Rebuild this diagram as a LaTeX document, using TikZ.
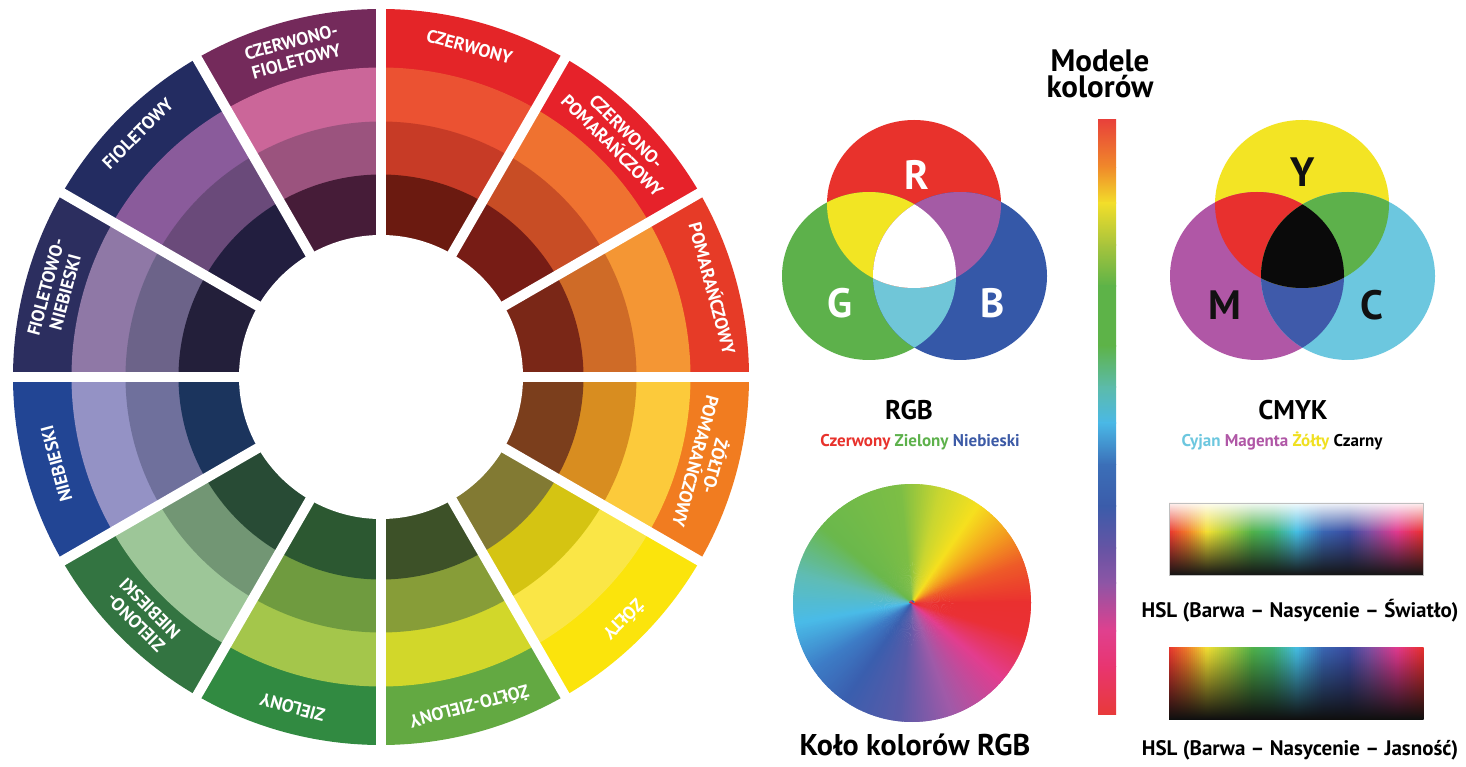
\documentclass[tikz,border=0pt]{standalone}
\usepackage{fontspec}
\setmainfont{PT Sans}
\usetikzlibrary{calc}

% basic palette
\definecolor{txtR}{HTML}{E8322C}
\definecolor{txtG}{HTML}{5DB14B}
\definecolor{txtB}{HTML}{3C5AA6}
\definecolor{txtC}{HTML}{6CC7DF}
\definecolor{txtM}{HTML}{B057A6}
\definecolor{txtY}{HTML}{F0E020}
\definecolor{inkdark}{HTML}{111111}

% venn colours
\definecolor{vR}{HTML}{E8322C}
\definecolor{vG}{HTML}{5DB14B}
\definecolor{vB}{HTML}{3558A8}
\definecolor{vRG}{HTML}{F2E523}
\definecolor{vRB}{HTML}{A45BA5}
\definecolor{vGB}{HTML}{70C6D8}
\definecolor{vY}{HTML}{F3E424}
\definecolor{vM}{HTML}{B057A6}
\definecolor{vC}{HTML}{6CC7DF}
\definecolor{vYM}{HTML}{E8302E}
\definecolor{vYC}{HTML}{5DB14B}
\definecolor{vMC}{HTML}{3F5AAA}
\definecolor{vK}{HTML}{0A0A0A}

\tikzset{
  wlabel/.style={text=white, font=\bfseries\fontsize{18}{20}\selectfont, align=center, inner sep=0pt},
  vennletter/.style={font=\bfseries\fontsize{41}{44}\selectfont, inner sep=0pt},
  headline/.style={font=\bfseries\fontsize{31}{28}\selectfont, anchor=base, inner sep=0pt},
  modeltitle/.style={font=\bfseries\fontsize{27}{30}\selectfont, anchor=base, inner sep=0pt},
  modelsub/.style={font=\bfseries\fontsize{17}{20}\selectfont, anchor=base, inner sep=0pt},
  bigcaption/.style={font=\bfseries\fontsize{30}{34}\selectfont, anchor=base, inner sep=0pt},
  hslcaption/.style={font=\bfseries\fontsize{21}{24}\selectfont, anchor=base, inner sep=0pt},
}

\begin{document}
\begin{tikzpicture}[x=1pt, y=1pt]
\useasboundingbox (0,0) rectangle (1466,766);
\fill[white] (0,0) rectangle (1466,766);

% ---------------- colour wheel with tints and shades ----------------
\begin{scope}[shift={(381,389)}]
  \foreach \i/\lab/\rr/\ca/\cb/\cc/\cd in {
    0/{CZERWONY}/342/E42528/EB5232/C73B26/6B1A10,
    1/{CZERWONO-\\POMARAŃCZOWY}/337/E6222A/EF7230/C84D25/771C15,
    2/{POMARAŃCZOWY}/344/E63B27/F49634/CF6B27/7A2717,
    3/{ŻÓŁTO-\\POMARAŃCZOWY}/337/F17C20/FCCA3B/D88D20/7B3E1C,
    4/{ŻÓŁTY}/344/FBE40C/FAE646/D5C412/827A33,
    5/{ŻÓŁTO-ZIELONY}/342/63A942/D2D72A/879D38/3D5128,
    6/{ZIELONY}/342/318A41/A4C64B/6F9B3F/2C5831,
    7/{ZIELONO-\\NIEBIESKI}/337/337441/9DC698/729674/284B35,
    8/{NIEBIESKI}/336/224594/9492C5/6F709C/1B345D,
    9/{FIOLETOWO-\\NIEBIESKI}/337/2C2E5F/8F78A6/6C6389/231F3A,
    10/{FIOLETOWY}/344/232C61/8A5B9B/6A4A7A/221E3F,
    11/{CZERWONO-\\FIOLETOWY}/337/742A5B/CB6699/9B537E/461C38}{
    \pgfmathsetmacro\aa{90-30*\i}
    \pgfmathsetmacro\ab{60-30*\i}
    \pgfmathsetmacro\am{75-30*\i}
    \definecolor{bandA}{HTML}{\ca}
    \definecolor{bandB}{HTML}{\cb}
    \definecolor{bandC}{HTML}{\cc}
    \definecolor{bandD}{HTML}{\cd}
    \fill[bandA] (\ab:368) arc[start angle=\ab, end angle=\aa, radius=368]
      -- (\aa:309) arc[start angle=\aa, end angle=\ab, radius=309] -- cycle;
    \fill[bandB] (\ab:309.5) arc[start angle=\ab, end angle=\aa, radius=309.5]
      -- (\aa:255) arc[start angle=\aa, end angle=\ab, radius=255] -- cycle;
    \fill[bandC] (\ab:255.5) arc[start angle=\ab, end angle=\aa, radius=255.5]
      -- (\aa:202) arc[start angle=\aa, end angle=\ab, radius=202] -- cycle;
    \fill[bandD] (\ab:202.5) arc[start angle=\ab, end angle=\aa, radius=202.5]
      -- (\aa:140) arc[start angle=\aa, end angle=\ab, radius=140] -- cycle;
    \node[wlabel, rotate=\am-90] (wl\i) at (\am:\rr) {\lab};
  }
  % white gaps between the twelve sectors
  \foreach \g in {0,30,...,150}
    \draw[white, line width=10] (\g:380) -- (\g+180:380);
  % empty middle
  \fill[white] (0,0) circle[radius=142];
\end{scope}

% ---------------- heading and vertical spectrum bar ----------------
\node[headline] (head1) at (1100,694) {Modele};
\node[headline] (head2) at (1100,668) {kolorów};

\foreach \ya/\yb/\ca/\cb in {
  646/598.5/E8413A/F08A2A,
  598.5/562.8/F08A2A/F2DE2A,
  562.8/521.3/F2DE2A/A8C43C,
  521.3/479.7/A8C43C/5DB348,
  479.7/420.3/5DB348/5DB348,
  420.3/378.7/5DB348/5CBBAA,
  378.7/343.1/5CBBAA/4AB8E6,
  343.1/301.5/4AB8E6/3B6FB8,
  301.5/259.9/3B6FB8/3B5CAA,
  259.9/218.3/3B5CAA/6554A4,
  218.3/182.7/6554A4/8E55A5,
  182.7/135.2/8E55A5/E0408E,
  135.2/99.5/E0408E/E83570,
  99.5/52/E83570/E83A3A}{
  \definecolor{barA}{HTML}{\ca}
  \definecolor{barB}{HTML}{\cb}
  \shade[top color=barA, bottom color=barB] (1098,\ya+0.4) rectangle (1116,\yb-0.4);
}

% ---------------- additive RGB model ----------------
\coordinate (cR) at (914,562);
\coordinate (cG) at (869,490);
\coordinate (cB) at (960,490);
\fill[vR] (cR) ellipse[x radius=87, y radius=84];
\fill[vG] (cG) ellipse[x radius=87, y radius=84];
\fill[vB] (cB) ellipse[x radius=87, y radius=84];
\begin{scope}
  \clip (cG) ellipse[x radius=87, y radius=84];
  \fill[vGB] (cB) ellipse[x radius=87, y radius=84];
\end{scope}
\begin{scope}
  \clip (cR) ellipse[x radius=87, y radius=84];
  \fill[vRG] (cG) ellipse[x radius=87, y radius=84];
  \fill[vRB] (cB) ellipse[x radius=87, y radius=84];
  \clip (cG) ellipse[x radius=87, y radius=84];
  \fill[white] (cB) ellipse[x radius=87, y radius=84];
\end{scope}
\node[vennletter, text=white] (lR) at (917,591) {R};
\node[vennletter, text=white] (lG) at (840,463) {G};
\node[vennletter, text=white] (lB) at (993,463) {B};

\node[modeltitle] (rgbtitle) at (909,346) {RGB};
\node[modelsub] (rgbsub) at (920,319) {\textcolor{txtR}{Czerwony} \textcolor{txtG}{Zielony} \textcolor{txtB}{Niebieski}};

% ---------------- subtractive CMYK model ----------------
\coordinate (cY) at (1302,562);
\coordinate (cM) at (1257,490);
\coordinate (cC) at (1348,490);
\fill[vY] (cY) ellipse[x radius=87, y radius=84];
\fill[vM] (cM) ellipse[x radius=87, y radius=84];
\fill[vC] (cC) ellipse[x radius=87, y radius=84];
\begin{scope}
  \clip (cM) ellipse[x radius=87, y radius=84];
  \fill[vMC] (cC) ellipse[x radius=87, y radius=84];
\end{scope}
\begin{scope}
  \clip (cY) ellipse[x radius=87, y radius=84];
  \fill[vYM] (cM) ellipse[x radius=87, y radius=84];
  \fill[vYC] (cC) ellipse[x radius=87, y radius=84];
  \clip (cM) ellipse[x radius=87, y radius=84];
  \fill[vK] (cC) ellipse[x radius=87, y radius=84];
\end{scope}
\node[vennletter, text=inkdark] (lY) at (1303,594) {Y};
\node[vennletter, text=inkdark] (lM) at (1225,461) {M};
\node[vennletter, text=inkdark] (lC) at (1372,461) {C};

\node[modeltitle] (cmyktitle) at (1293,346) {CMYK};
\node[modelsub] (cmyksub) at (1282,319) {\textcolor{txtC}{Cyjan} \textcolor{txtM}{Magenta} \textcolor{txtY}{Żółty} \textcolor{black}{Czarny}};

% ---------------- RGB hue disc (conic blend) ----------------
\begin{scope}[shift={(912,163)}]
  \foreach \sa/\sb/\ca/\cb in {
    0/20/EA3030/EE5A28,
    20/36/EE5A28/F39A1F,
    36/56/F39A1F/F6E01E,
    56/76/F6E01E/C9D630,
    76/96/C9D630/7DBE45,
    96/140/7DBE45/6AB84C,
    140/166/6AB84C/5FBCB5,
    166/190/5FBCB5/4ABBE8,
    190/214/4ABBE8/3D7CC6,
    214/236/3D7CC6/3A5EAE,
    236/264/3A5EAE/5A5AA8,
    264/290/5A5AA8/A05AA8,
    290/320/A05AA8/E33D8E,
    320/344/E33D8E/EA3035,
    344/360/EA3035/EA3030}{
    \definecolor{hueA}{HTML}{\ca}
    \definecolor{hueB}{HTML}{\cb}
    \pgfmathtruncatemacro\nn{\sb-\sa-1}
    \foreach \k in {0,...,\nn}{
      \pgfmathtruncatemacro\pp{round(100*(\k+0.5)/(\sb-\sa))}
      \colorlet{hueMix}{hueB!\pp!hueA}
      % each wedge reaches slightly past the centre so no seam shows there
      \fill[hueMix] (\sa+\k+180.8:2.5) -- (\sa+\k:119)
        arc[start angle=\sa+\k, end angle=\sa+\k+1.6, radius=119] -- cycle;
    }
  }
\end{scope}
\node[bigcaption] (wheelcap) at (915,11) {Koło kolorów RGB};

% ---------------- HSL strips ----------------
\foreach \sa/\sb/\ca/\cb in {
  0/18/E8342F/F07A2A,
  18/38/F07A2A/F2DF33,
  38/60/F2DF33/A8CA3C,
  60/84/A8CA3C/4FB04A,
  84/104/4FB04A/3FB070,
  104/128/3FB070/45BDE3,
  128/154/45BDE3/3A66B2,
  154/180/3A66B2/3A4BA0,
  180/200/3A4BA0/7C4FA2,
  200/228/7C4FA2/E0398E,
  228/254/E0398E/E8302F}{
  \definecolor{hslA}{HTML}{\ca}
  \definecolor{hslB}{HTML}{\cb}
  \pgfmathtruncatemacro\nn{\sb-\sa-2}
  \foreach \k in {0,2,...,\nn}{
    \pgfmathtruncatemacro\pp{round(100*(\k+1)/(\sb-\sa))}
    \colorlet{hslMix}{hslB!\pp!hslA}
    \pgfmathsetmacro\xx{1169+\sa+\k}
    % strip with white top, pure hue, black bottom
    \shade[top color=hslMix!8!white, bottom color=hslMix] (\xx,263) rectangle (\xx+2.6,234);
    \shade[top color=hslMix, bottom color=black!92] (\xx,234.4) rectangle (\xx+2.6,191);
    % strip with pure hue on top fading to black
    \shade[top color=hslMix, bottom color=hslMix!80!black] (\xx,119) rectangle (\xx+2.6,102);
    \shade[top color=hslMix!80!black, bottom color=black!94] (\xx,102.4) rectangle (\xx+2.6,47);
  }
}
\draw[black!25, line width=0.6] (1169,191) rectangle (1423,263);
\node[hslcaption] (hsl1) at (1300,149) {HSL (Barwa – Nasycenie – Światło)};
\node[hslcaption] (hsl2) at (1300,11) {HSL (Barwa – Nasycenie – Jasność)};
\end{tikzpicture}
\end{document}
